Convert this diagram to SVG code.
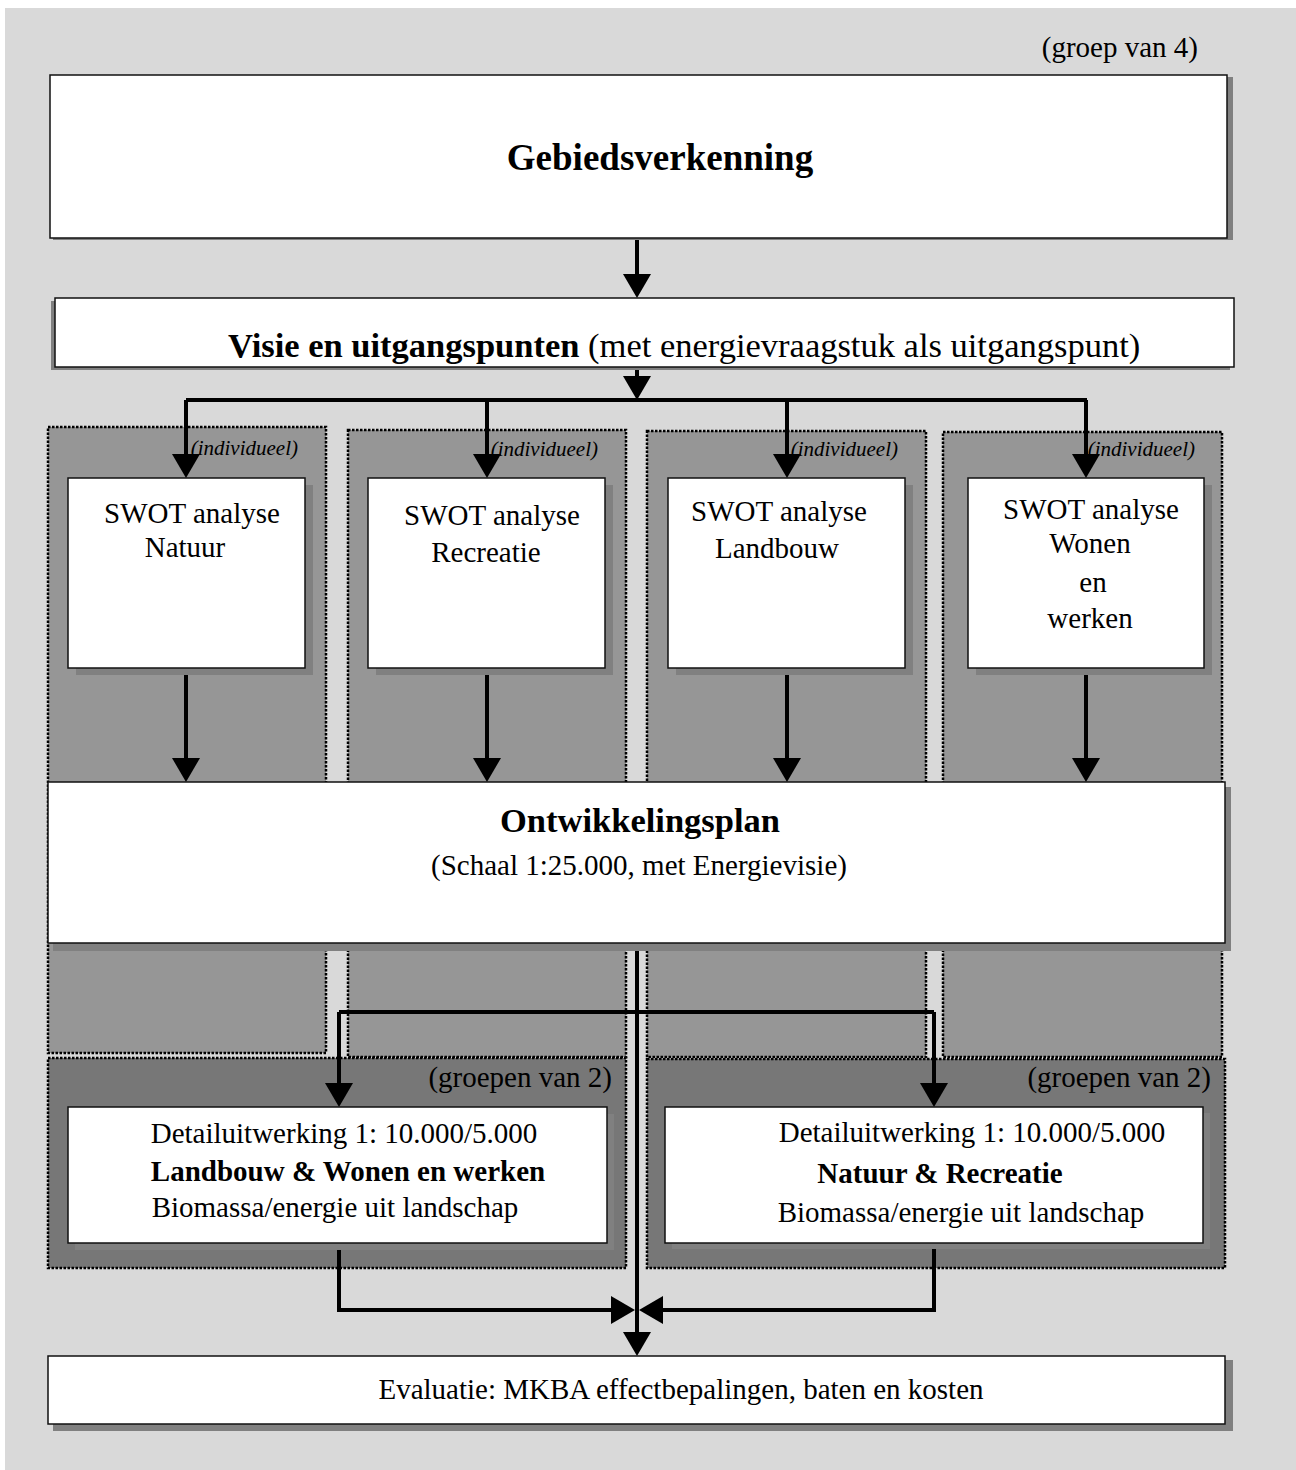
<svg xmlns="http://www.w3.org/2000/svg" width="1296" height="1470" viewBox="0 0 1296 1470">
<defs>
<style>
text{font-family:"Liberation Serif","Times New Roman",serif;fill:#000}
.n{font-size:29px}
.b{font-weight:bold}
.i{font-size:21px;font-style:italic}
.m{text-anchor:middle}
.e{text-anchor:end}
.box{fill:#fff;stroke:#111;stroke-width:1.5}
.sh{fill:#808080}
.panel{fill:#969696;stroke:#000;stroke-width:2.5;stroke-dasharray:2.5 1.5}
.grp{fill:#777;stroke:#000;stroke-width:2.5;stroke-dasharray:2.5 1.5}
.c{fill:none;stroke:#000;stroke-width:4}
</style>
<marker id="ah" markerWidth="24" markerHeight="28" refX="0" refY="14" orient="auto" markerUnits="userSpaceOnUse">
<path d="M0,0 L24,14 L0,28 z" fill="#000"/>
</marker>
</defs>
<rect x="5" y="8" width="1291" height="1462" fill="#d9d9d9"/>
<text class="n e" x="1198" y="57">(groep van 4)</text>

<g id="panels">
<rect id="panel-natuur" class="panel" x="48" y="427" width="278" height="626"/>
<rect id="panel-recreatie" class="panel" x="348" y="430" width="278" height="627"/>
<rect id="panel-landbouw" class="panel" x="647" y="431" width="279" height="626"/>
<rect id="panel-wonen" class="panel" x="943" y="432" width="279" height="625"/>
<text class="i e" x="298" y="455">(individueel)</text>
<text class="i e" x="598" y="456">(individueel)</text>
<text class="i e" x="898" y="456">(individueel)</text>
<text class="i e" x="1195" y="456">(individueel)</text>
</g>

<g id="groups">
<rect id="group-left" class="grp" x="48" y="1058" width="578" height="210"/>
<rect id="group-right" class="grp" x="647" y="1059" width="578" height="209"/>
<text class="n e" x="612" y="1087">(groepen van 2)</text>
<text class="n e" x="1211" y="1087">(groepen van 2)</text>
</g>

<g id="connectors">
<path class="c" d="M637,238 V274" marker-end="url(#ah)"/>
<path class="c" d="M637,367 V376" marker-end="url(#ah)"/>
<path class="c" d="M186,400 H1087"/>
<path class="c" d="M186,400 V454" marker-end="url(#ah)"/>
<path class="c" d="M487,400 V454" marker-end="url(#ah)"/>
<path class="c" d="M787,400 V454" marker-end="url(#ah)"/>
<path class="c" d="M1086,400 V454" marker-end="url(#ah)"/>
<path class="c" d="M186,668 V758" marker-end="url(#ah)"/>
<path class="c" d="M487,668 V758" marker-end="url(#ah)"/>
<path class="c" d="M787,668 V758" marker-end="url(#ah)"/>
<path class="c" d="M1086,668 V758" marker-end="url(#ah)"/>
<path class="c" d="M637,943 V1332" marker-end="url(#ah)"/>
<path class="c" d="M339,1012 H934"/>
<path class="c" d="M339,1012 V1083" marker-end="url(#ah)"/>
<path class="c" d="M934,1012 V1083" marker-end="url(#ah)"/>
<path class="c" d="M339,1243 V1310 H611" marker-end="url(#ah)"/>
<path class="c" d="M934,1243 V1310 H663" marker-end="url(#ah)"/>
</g>

<g id="gebiedsverkenning">
<rect class="sh" x="53" y="77" width="1180" height="163"/>
<rect class="box" x="50" y="75" width="1177" height="163"/>
<text class="m b" x="660" y="170" font-size="37">Gebiedsverkenning</text>
</g>

<g id="visie">
<rect class="sh" x="51" y="301" width="1179" height="69"/>
<rect class="box" x="55" y="298" width="1179" height="69"/>
<text x="228" y="357" font-size="34.5"><tspan class="b">Visie en uitgangspunten</tspan> (met energievraagstuk als uitgangspunt)</text>
</g>

<g id="swot-natuur">
<rect class="sh" x="76" y="485" width="237" height="190"/>
<rect class="box" x="68" y="478" width="237" height="190"/>
<text class="n m" x="192" y="523">SWOT analyse</text>
<text class="n m" x="185" y="557">Natuur</text>
</g>
<g id="swot-recreatie">
<rect class="sh" x="376" y="485" width="237" height="190"/>
<rect class="box" x="368" y="478" width="237" height="190"/>
<text class="n m" x="492" y="525">SWOT analyse</text>
<text class="n m" x="486" y="562">Recreatie</text>
</g>
<g id="swot-landbouw">
<rect class="sh" x="676" y="485" width="237" height="190"/>
<rect class="box" x="668" y="478" width="237" height="190"/>
<text class="n m" x="779" y="521">SWOT analyse</text>
<text class="n m" x="777" y="558">Landbouw</text>
</g>
<g id="swot-wonen">
<rect class="sh" x="976" y="485" width="236" height="190"/>
<rect class="box" x="968" y="478" width="236" height="190"/>
<text class="n m" x="1091" y="519">SWOT analyse</text>
<text class="n m" x="1090" y="553">Wonen</text>
<text class="n m" x="1093" y="592">en</text>
<text class="n m" x="1090" y="628">werken</text>
</g>

<g id="ontwikkelingsplan">
<rect class="sh" x="53" y="787" width="1178" height="164"/>
<rect class="box" x="48" y="782" width="1177" height="161"/>
<text class="m b" x="640" y="832" font-size="34.5">Ontwikkelingsplan</text>
<text class="n m" x="639" y="875">(Schaal 1:25.000, met Energievisie)</text>
</g>

<g id="detail-landbouw">
<rect class="sh" x="75" y="1114" width="539" height="136"/>
<rect class="box" x="68" y="1107" width="539" height="136"/>
<text class="n m" x="344" y="1143">Detailuitwerking 1: 10.000/5.000</text>
<text class="n m b" x="348" y="1181">Landbouw &amp; Wonen en werken</text>
<text class="n m" x="335" y="1217">Biomassa/energie uit landschap</text>
</g>
<g id="detail-natuur">
<rect class="sh" x="672" y="1113" width="538" height="136"/>
<rect class="box" x="665" y="1107" width="538" height="136"/>
<text class="n m" x="972" y="1142">Detailuitwerking 1: 10.000/5.000</text>
<text class="n m b" x="940" y="1183">Natuur &amp; Recreatie</text>
<text class="n m" x="961" y="1222">Biomassa/energie uit landschap</text>
</g>

<g id="evaluatie">
<rect class="sh" x="53" y="1360" width="1180" height="71"/>
<rect class="box" x="48" y="1356" width="1177" height="68"/>
<text class="n m" x="681" y="1399">Evaluatie: MKBA effectbepalingen, baten en kosten</text>
</g>
</svg>
